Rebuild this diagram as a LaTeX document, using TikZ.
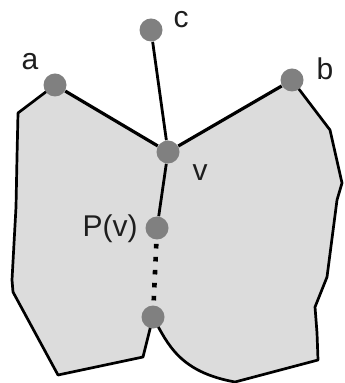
\documentclass[tikz,border=0pt]{standalone}
\usepackage{fontspec}
\setmainfont{Liberation Sans}
\usetikzlibrary{positioning}
\definecolor{regionfill}{HTML}{DCDCDC}
\definecolor{dotgray}{HTML}{808080}
\definecolor{lbltext}{HTML}{1E1E1E}

\begin{document}
\begin{tikzpicture}[
          x=0.5pt, y=-0.5pt,
          vtx/.style={circle, fill=dotgray, inner sep=0pt, minimum size=11.5pt},
          edge/.style={line width=1.6pt},
          border/.style={line width=1.35pt, line join=round},
          lbl/.style={font=\fontsize{15}{18}\selectfont, text=lbltext, inner sep=0pt}
      ]
        \useasboundingbox (0,0) rectangle (344,383);
        \coordinate (pa) at (55,85);
        \coordinate (pb) at (292,80);
        \coordinate (pc) at (151,30);
        \coordinate (pv) at (168,152);
        \coordinate (pp) at (157,228);
        \coordinate (pq) at (153,317);

        % the two regions
        \fill[regionfill] (pa) -- (18,113) -- (17,157) -- (16,207) -- (12,280) -- (13,292)
          -- (58,375) -- (143,357) -- (pq) .. controls (168,345) and (180,372) .. (235,382)
          -- (318,360) -- (317,333) -- (315,307) -- (327,277) -- (337,200) -- (342,183)
          -- (330,130) -- (pb) -- (pv) -- cycle;
        \draw[border] (pa) -- (18,113) -- (17,157) -- (16,207) -- (12,280) -- (13,292)
          -- (58,375) -- (143,357) -- (pq);
        \draw[border] (pb) -- (330,130) -- (342,183) -- (337,200) -- (327,277) -- (315,307)
          -- (317,333) -- (318,360) -- (235,382) .. controls (180,372) and (168,345) .. (pq);

        \node[vtx] (a) at (pa) {};
        \node[vtx] (b) at (pb) {};
        \node[vtx] (c) at (pc) {};
        \node[vtx] (v) at (pv) {};
        \node[vtx] (p) at (pp) {};
        \node[vtx] (q) at (pq) {};

        \draw[edge] (a) -- (v);
        \draw[edge] (b) -- (v);
        \draw[edge, line width=1.4pt] (c) -- (v);
        \draw[edge, line width=1.4pt] (v) -- (p);
        \draw[edge, line width=2.3pt, dash pattern=on 2.3pt off 4.2pt, shorten <=2pt, shorten >=0pt] (p) -- (q);

        \node[lbl] (la) at (30,62) {a};
        \node[lbl] (lb) at (325,69) {b};
        \node[lbl] (lc) at (181,20) {c};
        \node[lbl] (lv) at (200,173) {v};
        \node[lbl] (lp) at (110,229) {P(v)};
      \end{tikzpicture}
\end{document}
